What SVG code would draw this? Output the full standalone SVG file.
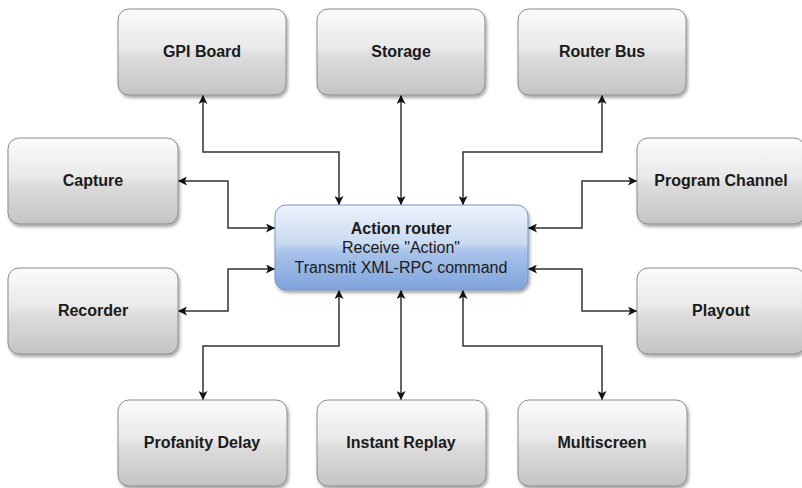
<svg xmlns="http://www.w3.org/2000/svg" width="802" height="488" viewBox="0 0 802 488">
<defs>
<linearGradient id="g" x1="0" y1="0" x2="0" y2="1">
<stop offset="0" stop-color="#fbfbfb"/>
<stop offset="0.45" stop-color="#e9e9e9"/>
<stop offset="0.55" stop-color="#dcdcdc"/>
<stop offset="1" stop-color="#c4c4c4"/>
</linearGradient>
<linearGradient id="b" x1="0" y1="0" x2="0" y2="1">
<stop offset="0" stop-color="#eef3fb"/>
<stop offset="0.45" stop-color="#c9daf1"/>
<stop offset="0.55" stop-color="#a9c3ea"/>
<stop offset="1" stop-color="#7ea3dc"/>
</linearGradient>
<filter id="sh" x="-10%" y="-10%" width="125%" height="130%">
<feDropShadow dx="1.5" dy="2.5" stdDeviation="1.5" flood-color="#000" flood-opacity="0.35"/>
</filter>
<marker id="a" viewBox="0 0 10 10" refX="10" refY="5" markerWidth="9" markerHeight="9" markerUnits="userSpaceOnUse" orient="auto-start-reverse">
<path d="M0,0 L10,5 L0,10 L2.5,5 Z" fill="#111"/>
</marker>
<style>
.n rect{fill:url(#g);stroke:#8c8c8c;stroke-width:1;filter:url(#sh)}
.n text{font-family:"Liberation Sans",Arial,sans-serif;font-weight:bold;font-size:16px;fill:#1a1a1a;text-anchor:middle}
#center rect{fill:url(#b);stroke:#7a96c4;stroke-width:1;filter:url(#sh)}
#center text{font-family:"Liberation Sans",Arial,sans-serif;font-size:16px;fill:#1a1a1a;text-anchor:middle}
#center .t{font-weight:bold}
#connectors path{fill:none;stroke:#333;stroke-width:1.5;marker-start:url(#a);marker-end:url(#a)}
</style>
</defs>
<g id="connectors">
<path d="M203,95 V152 H339 V205"/>
<path d="M401,95 V205"/>
<path d="M602,95 V152 H463 V205"/>
<path d="M178,181 H228 V228 H275"/>
<path d="M637,181 H582 V228 H528"/>
<path d="M178,311 H228 V269 H275"/>
<path d="M637,311 H582 V269 H528"/>
<path d="M203,400 V346 H339 V290"/>
<path d="M401,400 V290"/>
<path d="M602,400 V346 H463 V290"/>
</g>
<g id="gpi" class="n"><rect x="118" y="9" width="168" height="86" rx="11"/><text x="202" y="57">GPI Board</text></g>
<g id="storage" class="n"><rect x="317" y="9" width="168" height="86" rx="11"/><text x="401" y="57">Storage</text></g>
<g id="routerbus" class="n"><rect x="518" y="9" width="168" height="86" rx="11"/><text x="602" y="57">Router Bus</text></g>
<g id="capture" class="n"><rect x="8" y="138" width="170" height="86" rx="11"/><text x="93" y="186">Capture</text></g>
<g id="program" class="n"><rect x="637" y="138" width="168" height="86" rx="11"/><text x="721" y="186">Program Channel</text></g>
<g id="recorder" class="n"><rect x="8" y="268" width="170" height="86" rx="11"/><text x="93" y="316">Recorder</text></g>
<g id="playout" class="n"><rect x="637" y="268" width="168" height="86" rx="11"/><text x="721" y="316">Playout</text></g>
<g id="profanity" class="n"><rect x="118" y="400" width="169" height="86" rx="11"/><text x="202" y="448">Profanity Delay</text></g>
<g id="replay" class="n"><rect x="317" y="400" width="169" height="86" rx="11"/><text x="401" y="448">Instant Replay</text></g>
<g id="multiscreen" class="n"><rect x="518" y="400" width="169" height="86" rx="11"/><text x="602" y="448">Multiscreen</text></g>
<g id="center"><rect x="275" y="205" width="253" height="85" rx="11"/>
<text class="t" x="401" y="234">Action router</text>
<text x="401" y="253">Receive "Action"</text>
<text x="401" y="273">Transmit XML-RPC command</text>
</g>
</svg>
